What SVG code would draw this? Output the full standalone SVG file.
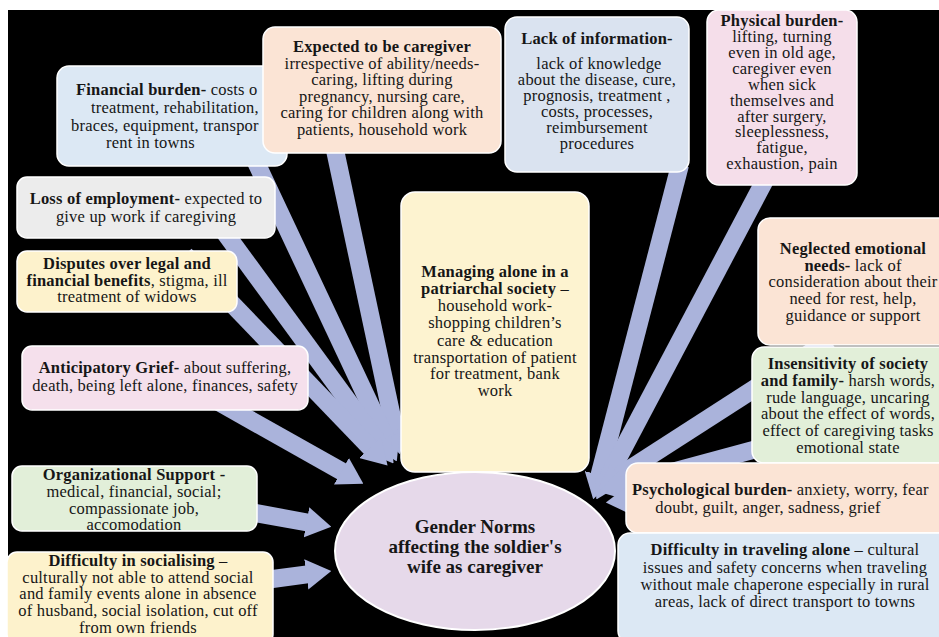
<svg xmlns="http://www.w3.org/2000/svg" width="939" height="637" viewBox="0 0 939 637">
<defs>
<style>
.box{stroke:#ffffff;stroke-width:1.5}
.t{font-family:"Liberation Serif","Times New Roman",serif;font-size:16.5px;letter-spacing:0.2px;fill:#161616;text-anchor:middle}
.s{text-anchor:start}
.b{font-weight:bold}
.ttl{font-family:"Liberation Serif","Times New Roman",serif;font-size:19px;font-weight:bold;fill:#161616;text-anchor:middle}
.arr{stroke:#aab3db;stroke-width:18;fill:none;marker-end:url(#ah)}
</style>
<marker id="ah" viewBox="0 0 14 17" refX="0.5" refY="8.5" markerWidth="1.4" markerHeight="1.7" orient="auto" markerUnits="strokeWidth">
<path d="M0,0 L14,8.5 L0,17 z" fill="#aab3db"/>
</marker>
</defs>
<rect x="0" y="0" width="939" height="637" fill="#ffffff"/>
<rect x="8" y="10" width="931" height="627" fill="#000000"/>

<g id="connectors">
<line class="arr" x1="335" y1="150" x2="394.8" y2="430.5"/>
<line class="arr" x1="255" y1="160" x2="386.4" y2="439.4"/>
<line class="arr" x1="190" y1="185" x2="379.2" y2="443.8"/>
<line class="arr" x1="185" y1="255" x2="370.7" y2="448"/>
<line class="arr" x1="215" y1="400" x2="342.2" y2="471.7"/>
<line class="arr" x1="250" y1="512" x2="307.4" y2="522.5"/>
<line class="arr" x1="265" y1="580" x2="307.2" y2="574.3"/>
<line class="arr" x1="680" y1="165" x2="599.3" y2="475.8"/>
<line class="arr" x1="765" y1="180" x2="607.7" y2="477.9"/>
<line class="arr" x1="830" y1="340" x2="618" y2="476.5"/>
<line class="arr" x1="790" y1="440" x2="622.1" y2="485.5"/>
<line class="arr" x1="680" y1="495" x2="630" y2="500"/>
</g>

<g id="financial">
<rect class="box" x="57" y="66" width="230" height="100" rx="12" fill="#dce8f4"/>
<text class="t s" x="76" y="95"><tspan class="b">Financial burden-</tspan> costs o</text>
<text class="t s" x="91" y="113">treatment, rehabilitation,</text>
<text class="t s" x="71" y="131">braces, equipment, transpor</text>
<text class="t s" x="106" y="148">rent in towns</text>
</g>

<g id="expected">
<rect class="box" x="263" y="27" width="238" height="126" rx="12" fill="#fbe4d5"/>
<text class="t b" x="382" y="52">Expected to be caregiver</text>
<text class="t" x="382" y="69">irrespective of ability/needs-</text>
<text class="t" x="382" y="85">caring, lifting during</text>
<text class="t" x="382" y="102">pregnancy,  nursing care,</text>
<text class="t" x="382" y="118">caring for children along with</text>
<text class="t" x="382" y="135">patients, household work</text>
</g>

<g id="lackinfo">
<rect class="box" x="505" y="17" width="184" height="155" rx="12" fill="#dae3f0"/>
<text class="t b" x="597" y="44">Lack of information-</text>
<text class="t" x="599" y="69">lack of knowledge</text>
<text class="t" x="597" y="85">about the disease, cure,</text>
<text class="t" x="597" y="101">prognosis, treatment ,</text>
<text class="t" x="597" y="117">costs, processes,</text>
<text class="t" x="597" y="133">reimbursement</text>
<text class="t" x="597" y="149">procedures</text>
</g>

<g id="physical">
<rect class="box" x="707" y="10" width="150" height="175" rx="12" fill="#f5deea"/>
<text class="t b" x="782" y="26">Physical burden-</text>
<text class="t" x="782" y="42">lifting, turning</text>
<text class="t" x="782" y="58">even in old age,</text>
<text class="t" x="782" y="74">caregiver even</text>
<text class="t" x="782" y="90">when sick</text>
<text class="t" x="782" y="106">themselves and</text>
<text class="t" x="782" y="122">after surgery,</text>
<text class="t" x="782" y="137">sleeplessness,</text>
<text class="t" x="782" y="153">fatigue,</text>
<text class="t" x="782" y="169">exhaustion, pain</text>
</g>

<g id="loss">
<rect class="box" x="17" y="177" width="258" height="61" rx="10" fill="#ececec"/>
<text class="t" x="146" y="204"><tspan class="b">Loss of employment-</tspan> expected to</text>
<text class="t" x="146" y="222">give up work if caregiving</text>
</g>

<g id="disputes">
<rect class="box" x="17" y="251" width="220" height="61" rx="10" fill="#fdf2cc"/>
<text class="t b" x="127" y="269">Disputes over legal and</text>
<text class="t" x="127" y="286"><tspan class="b">financial benefits</tspan>, stigma, ill</text>
<text class="t" x="127" y="302">treatment of widows</text>
</g>

<g id="grief">
<rect class="box" x="22" y="346" width="286" height="64" rx="10" fill="#f5e0ec"/>
<text class="t" x="165" y="373"><tspan class="b">Anticipatory Grief-</tspan> about suffering,</text>
<text class="t" x="165" y="391">death, being left alone, finances, safety</text>
</g>

<g id="orgsupport">
<rect class="box" x="12" y="466" width="245" height="65" rx="10" fill="#e2efd9"/>
<text class="t b" x="134" y="480">Organizational Support -</text>
<text class="t" x="134" y="497">medical, financial, social;</text>
<text class="t" x="134" y="514">compassionate job,</text>
<text class="t" x="134" y="530">accomodation</text>
</g>

<g id="socialising">
<rect class="box" x="7" y="552" width="266" height="92" rx="10" fill="#fdf2cc"/>
<text class="t" x="138" y="566"><tspan class="b">Difficulty in socialising</tspan> –</text>
<text class="t" x="138" y="583">culturally not able to attend social</text>
<text class="t" x="138" y="599">and family events alone in absence</text>
<text class="t" x="138" y="616">of husband, social isolation, cut off</text>
<text class="t" x="138" y="633">from own friends</text>
</g>

<g id="managing">
<rect class="box" x="401" y="192" width="188" height="280" rx="14" fill="#fdf3d0"/>
<text class="t b" x="495" y="277">Managing alone in a</text>
<text class="t" x="495" y="294"><tspan class="b">patriarchal society</tspan> –</text>
<text class="t" x="495" y="311">household work-</text>
<text class="t" x="495" y="328">shopping children’s</text>
<text class="t" x="495" y="346">care &amp; education</text>
<text class="t" x="495" y="363">transportation of patient</text>
<text class="t" x="495" y="379">for treatment, bank</text>
<text class="t" x="495" y="396">work</text>
</g>

<g id="neglected">
<rect class="box" x="758" y="218" width="192" height="127" rx="12" fill="#fbe4d5"/>
<text class="t b" x="853" y="254">Neglected emotional</text>
<text class="t" x="853" y="271"><tspan class="b">needs-</tspan> lack of</text>
<text class="t" x="853" y="287">consideration about their</text>
<text class="t" x="853" y="304">need for rest, help,</text>
<text class="t" x="853" y="321">guidance or support</text>
</g>

<g id="insensitivity">
<rect class="box" x="752" y="347" width="198" height="116" rx="12" fill="#e2efd9"/>
<text class="t b" x="848" y="369">Insensitivity of society</text>
<text class="t" x="848" y="386"><tspan class="b">and family-</tspan> harsh words,</text>
<text class="t" x="848" y="403">rude language, uncaring</text>
<text class="t" x="848" y="419">about the effect of words,</text>
<text class="t" x="848" y="436">effect of caregiving tasks</text>
<text class="t" x="848" y="453">emotional state</text>
</g>

<g id="psychological">
<rect class="box" x="626" y="463" width="324" height="70" rx="12" fill="#fbe4d5"/>
<text class="t s" x="632" y="495"><tspan class="b">Psychological burden-</tspan> anxiety, worry, fear</text>
<text class="t" x="768" y="513">doubt, guilt, anger, sadness, grief</text>
</g>

<g id="traveling">
<rect class="box" x="618" y="533" width="332" height="110" rx="12" fill="#dce8f4"/>
<text class="t" x="785" y="555"><tspan class="b">Difficulty in traveling alone</tspan> – cultural</text>
<text class="t" x="785" y="573">issues and safety concerns when traveling</text>
<text class="t" x="785" y="590">without male chaperone especially in rural</text>
<text class="t" x="785" y="607">areas, lack of direct transport to towns</text>
</g>

<g id="center">
<ellipse cx="475" cy="551" rx="140" ry="79" fill="#e6d9ea" stroke="#ffffff" stroke-width="2"/>
<text class="ttl" x="475" y="533">Gender Norms</text>
<text class="ttl" x="475" y="553">affecting the soldier's</text>
<text class="ttl" x="475" y="573">wife as caregiver</text>
</g>
</svg>
